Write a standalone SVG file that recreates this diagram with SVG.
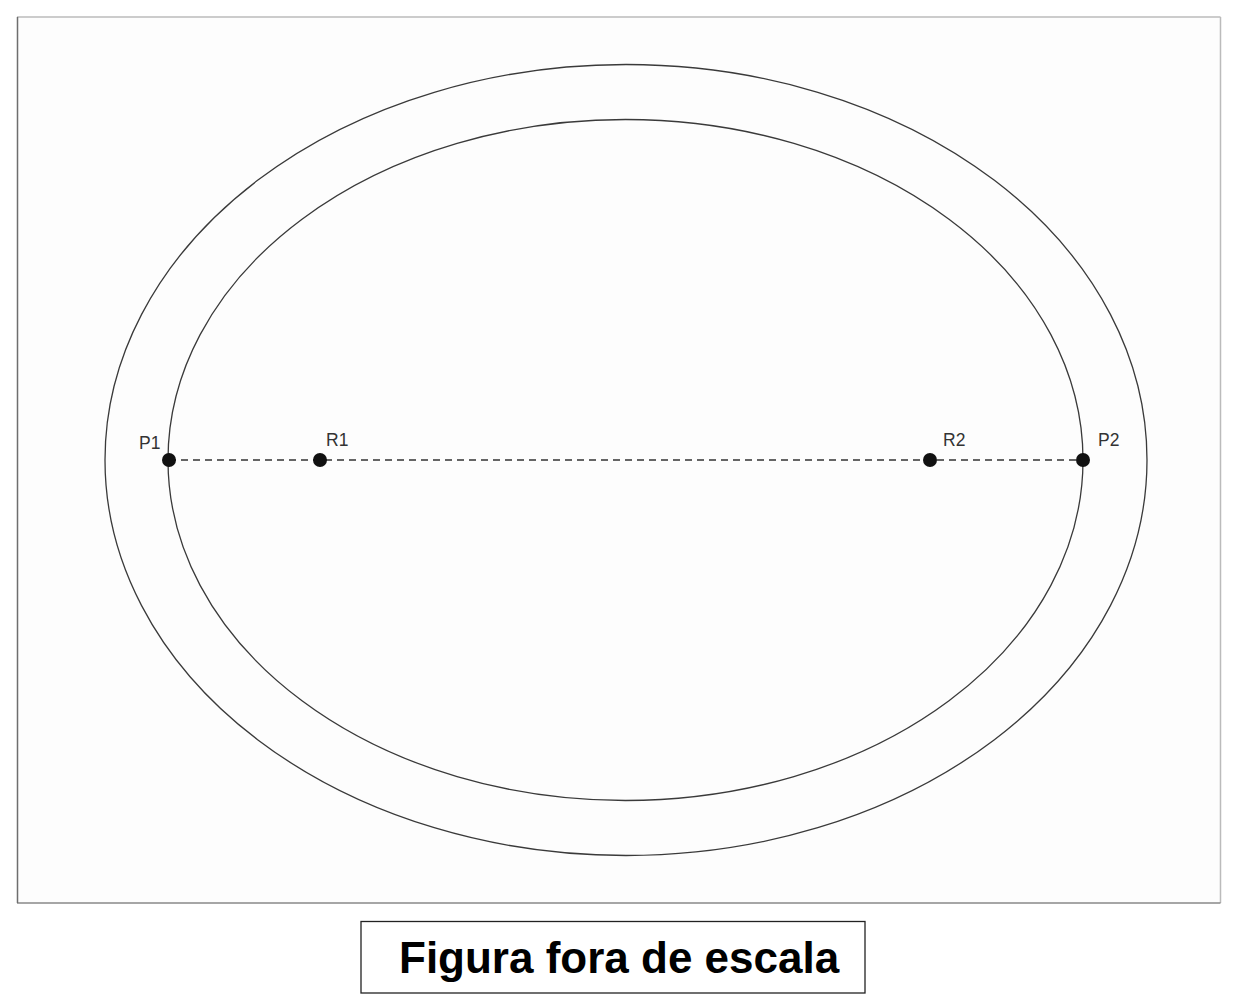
<svg xmlns="http://www.w3.org/2000/svg" width="1243" height="1004" viewBox="0 0 1243 1004">
<style>
.ring{fill:none;stroke:#3a3a3a;stroke-width:1.3}
.pt{fill:#111}
.lbl{font-family:"Liberation Sans",Arial,sans-serif;font-size:17.5px;fill:#333}
.cap{font-family:"Liberation Sans",Arial,sans-serif;font-size:44px;font-weight:bold;fill:#000}
</style>
<rect width="1243" height="1004" fill="#fff"/>
<g id="frame">
<rect x="17" y="17" width="1203.5" height="886" fill="#fdfdfd"/>
<line x1="17" y1="17" x2="1220.5" y2="17" stroke="#bbb" stroke-width="1.5"/>
<line x1="1220.5" y1="17" x2="1220.5" y2="903" stroke="#bbb" stroke-width="1.5"/>
<line x1="17" y1="903" x2="1220.5" y2="903" stroke="#888" stroke-width="1.5"/>
<line x1="17.5" y1="17" x2="17.5" y2="903" stroke="#6e6e6e" stroke-width="1.5"/>
</g>
<g id="outer-ellipse"><ellipse class="ring" cx="626" cy="460" rx="521" ry="395.5"/></g>
<g id="inner-ellipse"><ellipse class="ring" cx="625.5" cy="460" rx="457.5" ry="340.5"/></g>
<g id="connectors">
<line x1="169" y1="460" x2="1083" y2="460" stroke="#333" stroke-width="1.4" stroke-dasharray="7,5"/>
</g>
<g id="P1"><circle class="pt" cx="169" cy="460" r="7"/><text class="lbl" x="139" y="449">P1</text></g>
<g id="R1"><circle class="pt" cx="320" cy="460" r="7"/><text class="lbl" x="326" y="446">R1</text></g>
<g id="R2"><circle class="pt" cx="930" cy="460" r="7"/><text class="lbl" x="943" y="446">R2</text></g>
<g id="P2"><circle class="pt" cx="1083" cy="460" r="7"/><text class="lbl" x="1098" y="446">P2</text></g>
<g id="caption">
<rect x="361" y="921.5" width="504" height="71.5" fill="#fff" stroke="#222" stroke-width="1.3"/>
<text class="cap" x="399" y="973">Figura fora de escala</text>
</g>
</svg>
